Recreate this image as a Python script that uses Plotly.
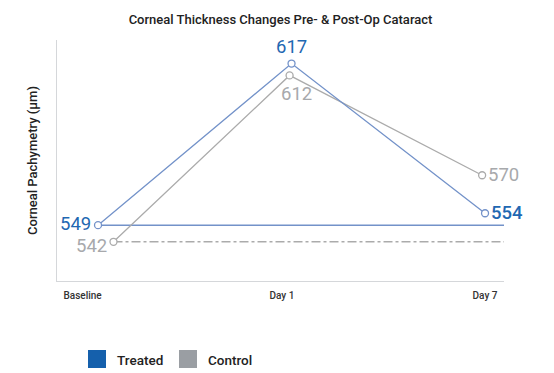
import plotly.graph_objects as go

# ---- data ----
categories = ["Baseline", "Day 1", "Day 7"]
series_names = ["Treated", "Control"]
treated_values = [549, 617, 554]
control_values = [542, 612, 570]

# ---- styling / layout helpers ----
cat_pos = [0, 1, 2]
control_offset = [0.08, -0.01, -0.015]
tick_pos = [-0.08, 0.95, 2.0]
x_range = [-0.212, 2.098]
y_range = [525.5, 626.9]

treated_line = "#7392C9"
treated_text = "#1F68B2"
treated_legend = "#1560AC"
control_line = "#ABABAB"
control_text = "#A7A9AC"
control_legend = "#9A9EA3"
font_family = "Roboto, Inter, 'Open Sans', sans-serif"

OFF = 8  # page body margin
W, H = 554 - OFF, 373 - OFF
ml, mr, mt, mb = 57 - OFF, W - (504 - OFF), 40 - OFF, H - (281 - OFF)
pw, ph = W - ml - mr, H - mt - mb

tx = cat_pos
cx = [p + o for p, o in zip(cat_pos, control_offset)]

fig = go.Figure()

# baseline reference lines
fig.add_trace(go.Scatter(x=[tx[0], x_range[1]], y=[treated_values[0]] * 2, mode="lines",
                         line=dict(color=treated_line, width=1.5), showlegend=False, hoverinfo="skip"))
fig.add_trace(go.Scatter(x=[cx[0], x_range[1]], y=[control_values[0]] * 2, mode="lines",
                         line=dict(color=control_line, width=1.5, dash="dashdot"), showlegend=False, hoverinfo="skip"))

fig.add_trace(go.Scatter(x=cx, y=control_values, mode="lines+markers", name=series_names[1],
                         line=dict(color=control_line, width=1.3),
                         marker=dict(symbol="circle", size=7, color="white",
                                     line=dict(color=control_line, width=1.3)),
                         showlegend=False))
fig.add_trace(go.Scatter(x=tx, y=treated_values, mode="lines+markers", name=series_names[0],
                         line=dict(color=treated_line, width=1.3),
                         marker=dict(symbol="circle", size=7, color="white",
                                     line=dict(color=treated_line, width=1.3)),
                         showlegend=False))

# value labels
lab_font = 18.5
fig.add_annotation(x=tx[0], y=treated_values[0], text=str(treated_values[0]), showarrow=False,
                   xanchor="right", yanchor="middle", xshift=-5, yshift=1,
                   font=dict(size=lab_font, color=treated_text, family=font_family))
fig.add_annotation(x=tx[1], y=treated_values[1], text=str(treated_values[1]), showarrow=False,
                   xanchor="center", yanchor="bottom", yshift=4,
                   font=dict(size=lab_font, color=treated_text, family=font_family))
fig.add_annotation(x=tx[2], y=treated_values[2], text=str(treated_values[2]), showarrow=False,
                   xanchor="left", yanchor="middle", xshift=4,
                   font=dict(size=lab_font, color=treated_text, family=font_family, weight=500))
fig.add_annotation(x=cx[0], y=control_values[0], text=str(control_values[0]), showarrow=False,
                   xanchor="right", yanchor="middle", xshift=-5, yshift=-4,
                   font=dict(size=lab_font, color=control_text, family=font_family))
fig.add_annotation(x=cx[1], y=control_values[1], text=str(control_values[1]), showarrow=False,
                   xanchor="center", yanchor="top", xshift=7, yshift=-6,
                   font=dict(size=lab_font, color=control_text, family=font_family))
fig.add_annotation(x=cx[2], y=control_values[2], text=str(control_values[2]), showarrow=False,
                   xanchor="left", yanchor="middle", xshift=4,
                   font=dict(size=lab_font, color=control_text, family=font_family))

# custom legend (squares + text) below the plot, positions in page pixels
legend_items = [(series_names[0], treated_legend, 88), (series_names[1], control_legend, 179)]


def px_x(p):
    return (p - OFF - ml) / pw


def px_y(p):
    return (H - mb - (p - OFF)) / ph


for name, col, px in legend_items:
    fig.add_shape(type="rect", xref="paper", yref="paper", x0=px_x(px), x1=px_x(px + 18),
                  y0=px_y(368), y1=px_y(350), fillcolor=col, line=dict(width=0))
    fig.add_annotation(xref="paper", yref="paper", x=px_x(px + 27), y=px_y(360),
                       text=name, showarrow=False, xanchor="left", yanchor="middle",
                       font=dict(size=13.5, color="#222222", family=font_family, weight=500))

fig.update_layout(
    width=W, height=H,
    margin=dict(l=ml, r=mr, t=mt, b=mb),
    paper_bgcolor="white", plot_bgcolor="white",
    title=dict(text="Corneal Thickness Changes Pre- &amp; Post-Op Cataract",
               x=(280.5 - OFF) / W, xanchor="center", y=1 - (19 - OFF) / H, yanchor="middle",
               font=dict(size=13, color="#222222", family=font_family, weight=500)),
    font=dict(family=font_family),
    showlegend=False,
)
fig.update_xaxes(range=x_range, tickvals=tick_pos, ticktext=categories, showgrid=False, zeroline=False,
                 showline=True, linecolor="#D5D7DA", linewidth=1, ticks="",
                 tickfont=dict(size=10, color="#333333", family=font_family, weight=500),
                 ticklabelstandoff=5)
fig.update_yaxes(range=y_range, showticklabels=False, showgrid=False, zeroline=False,
                 showline=True, linecolor="#D5D7DA", linewidth=1, ticks="",
                 title=dict(text="Corneal Pachymetry (µm)", standoff=15,
                            font=dict(size=13, color="#222222", family=font_family, weight=500)))

fig.write_html("out.html")
